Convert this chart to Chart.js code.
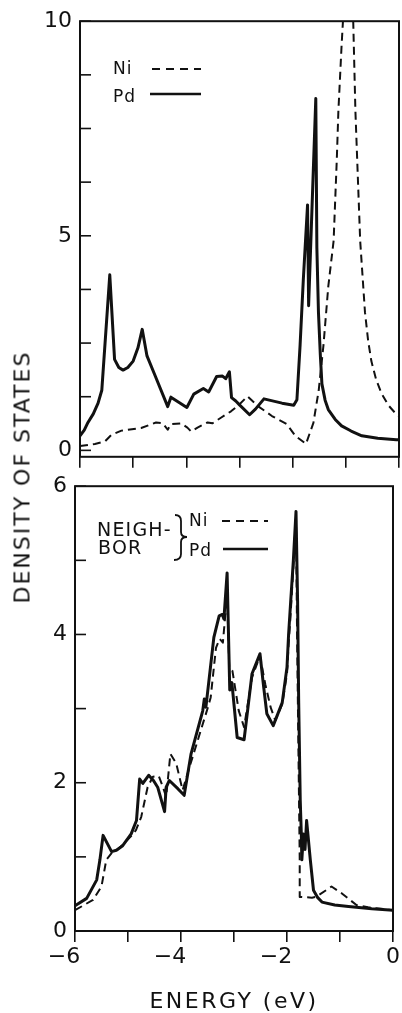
<!DOCTYPE html>
<html><head><meta charset="utf-8">
<script src="https://cdn.jsdelivr.net/npm/chart.js@4"></script>
<style>
html,body{margin:0;padding:0;background:#fff;width:402px;height:1013px;overflow:hidden;}
#topChart{position:absolute;left:0;top:0;}
#botChart{position:absolute;left:0;top:465px;}
#ytitle{position:absolute;left:22px;top:477px;transform:translate(-50%,-50%) rotate(-90deg);font:22px "DejaVu Sans";letter-spacing:2px;white-space:nowrap;color:#111;}
</style></head>
<body>
<canvas id="topChart" width="402" height="478"></canvas>
<canvas id="botChart" width="402" height="548"></canvas>
<div id="ytitle">DENSITY OF STATES</div>
<script>
// ---------- data ----------
const seriesNames = ['Ni', 'Pd'];
const neighborLabel = ['NEIGH-', 'BOR'];
const xTitle = 'ENERGY (eV)';

// top panel (site DOS)
const topNiEnergy = [-6, -5.72, -5.53, -5.41, -5.22, -4.85, -4.57, -4.44, -4.35, -4.29, -4.10, -3.98, -3.91, -3.79, -3.60, -3.51, -3.35, -3.16, -3.01, -2.85, -2.64, -2.39, -2.11, -1.95, -1.75, -1.61, -1.51, -1.42, -1.33, -1.23, -1.17, -1.14, -1.08, -0.94, -0.86, -0.82, -0.73, -0.64, -0.58, -0.52, -0.43, -0.33, -0.20, -0.05, 0];
const topNiDos    = [0.10, 0.15, 0.21, 0.36, 0.46, 0.52, 0.65, 0.63, 0.48, 0.61, 0.63, 0.53, 0.44, 0.53, 0.65, 0.63, 0.76, 0.91, 1.06, 1.26, 1.02, 0.80, 0.61, 0.34, 0.15, 0.64, 1.40, 2.46, 3.82, 4.88, 6.78, 7.91, 9.43, 12.5, 9.95, 7.91, 4.88, 3.22, 2.55, 2.08, 1.65, 1.33, 1.05, 0.84, 0.80];
const topPdEnergy = [-6, -5.92, -5.85, -5.75, -5.66, -5.59, -5.44, -5.35, -5.27, -5.19, -5.10, -5.0, -4.91, -4.83, -4.74, -4.6, -4.35, -4.29, -3.99, -3.86, -3.68, -3.58, -3.43, -3.32, -3.26, -3.19, -3.15, -3.07, -3.0, -2.81, -2.70, -2.54, -2.20, -1.98, -1.92, -1.86, -1.80, -1.72, -1.70, -1.565, -1.545, -1.515, -1.48, -1.45, -1.39, -1.33, -1.20, -1.08, -0.90, -0.70, -0.40, -0.05, 0];
const topPdDos    = [0.34, 0.47, 0.65, 0.85, 1.10, 1.40, 4.09, 2.12, 1.93, 1.87, 1.93, 2.08, 2.39, 2.82, 2.20, 1.78, 1.02, 1.24, 1.00, 1.31, 1.44, 1.36, 1.72, 1.73, 1.67, 1.83, 1.23, 1.15, 1.06, 0.83, 0.96, 1.20, 1.10, 1.05, 1.18, 2.46, 3.97, 5.72, 3.37, 8.20, 4.73, 3.22, 2.23, 1.55, 1.17, 0.95, 0.72, 0.57, 0.45, 0.34, 0.28, 0.25, 0.25];

// bottom panel (neighbor DOS)
const botNiEnergy = [-6, -5.66, -5.50, -5.41, -5.31, -5.22, -4.94, -4.85, -4.75, -4.63, -4.53, -4.42, -4.34, -4.28, -4.20, -4.09, -3.97, -3.81, -3.50, -3.44, -3.34, -3.27, -3.21, -3.13, -3.09, -3.03, -2.91, -2.81, -2.66, -2.51, -2.41, -2.31, -2.22, -2.09, -2.00, -1.97, -1.94, -1.88, -1.83, -1.81, -1.76, -1.76, -1.53, -1.45, -1.16, -0.97, -0.69, -0.47, 0];
const botNiDos    = [0.28, 0.42, 0.60, 0.96, 1.05, 1.08, 1.28, 1.36, 1.54, 1.94, 2.08, 2.09, 1.94, 1.81, 2.39, 2.26, 1.90, 2.28, 3.00, 3.15, 3.82, 3.94, 3.89, 4.54, 3.56, 3.51, 2.97, 2.75, 3.42, 3.71, 3.33, 3.02, 2.84, 3.06, 3.47, 3.87, 4.18, 4.90, 5.60, 4.00, 0.96, 0.46, 0.45, 0.46, 0.60, 0.51, 0.35, 0.32, 0.28];
const botPdEnergy = [-6, -5.78, -5.59, -5.53, -5.47, -5.31, -5.22, -5.10, -4.94, -4.84, -4.78, -4.72, -4.61, -4.52, -4.44, -4.31, -4.28, -4.22, -4.06, -3.94, -3.81, -3.59, -3.56, -3.53, -3.38, -3.28, -3.22, -3.19, -3.13, -3.08, -3.04, -2.94, -2.81, -2.66, -2.51, -2.44, -2.38, -2.26, -2.09, -2.00, -1.97, -1.93, -1.88, -1.83, -1.80, -1.78, -1.75, -1.73, -1.72, -1.69, -1.66, -1.63, -1.56, -1.50, -1.42, -1.34, -1.10, -0.84, -0.40, 0];
const botPdDos    = [0.34, 0.44, 0.69, 0.96, 1.29, 1.07, 1.09, 1.15, 1.31, 1.49, 2.05, 1.99, 2.10, 2.03, 1.94, 1.61, 1.94, 2.03, 1.92, 1.83, 2.39, 2.97, 3.13, 3.02, 3.96, 4.25, 4.27, 4.21, 4.83, 3.25, 3.35, 2.61, 2.58, 3.47, 3.74, 3.29, 2.93, 2.77, 3.08, 3.56, 4.00, 4.45, 5.00, 5.66, 4.45, 3.11, 1.76, 1.31, 0.96, 1.31, 1.10, 1.49, 0.96, 0.55, 0.45, 0.39, 0.35, 0.33, 0.30, 0.28];

// ticks
const xTickValues = [-6, -5, -4, -3, -2, -1, 0];
const xLabelValues = [-6, -4, -2, 0];
const topYTickValues = [0, 1.25, 2.5, 3.75, 5, 6.25, 7.5, 8.75, 10];
const topYLabelValues = [0, 5, 10];
const botYTickValues = [0, 1, 2, 3, 4, 5, 6];
const botYLabelValues = [0, 2, 4, 6];

// ---------- helpers ----------
const INK = '#111';
Chart.defaults.font.family = '"DejaVu Sans", sans-serif';
Chart.defaults.color = INK;
function pts(xs, ys) { return xs.map((x, i) => ({x: x, y: ys[i]})); }
function ds(label, data, dashed) {
  return { label: label, data: data, borderColor: INK, backgroundColor: INK,
    borderWidth: dashed ? 2 : 3, borderDash: dashed ? [8, 5] : [],
    pointRadius: 0, tension: 0, fill: false, borderJoinStyle: 'round', borderCapStyle: 'butt' };
}
function fixTicks(values) { return function (scale) { scale.ticks = values.map(v => ({value: v})); }; }
function xLabel(v) {
  if (!xLabelValues.includes(v)) return '';
  return v < 0 ? '\u2212' + Math.abs(v) + '\u2003' : String(v);
}
const framePlugin = {
  id: 'frame',
  afterDraw(chart) {
    const c = chart.ctx, a = chart.chartArea, ys = chart.scales.y;
    c.save();
    c.strokeStyle = INK; c.lineWidth = 2;
    c.strokeRect(a.left, a.top, a.right - a.left, a.bottom - a.top);
    c.lineWidth = 1.6;
    ys.ticks.forEach(t => {
      const p = ys.getPixelForValue(t.value);
      c.beginPath(); c.moveTo(a.left, p); c.lineTo(a.left + 11, p); c.stroke();
    });
    c.restore();
  }
};
function seg(c, x1, y1, x2, y2) { c.beginPath(); c.moveTo(x1, y1); c.lineTo(x2, y2); c.stroke(); }

const topKey = {
  id: 'topKey',
  afterDraw(chart) {
    const c = chart.ctx;
    c.save();
    c.fillStyle = INK; c.strokeStyle = INK;
    c.font = '17px "DejaVu Sans"'; c.textBaseline = 'alphabetic'; c.textAlign = 'left';
    c.letterSpacing = '1px';
    c.fillText(chart.data.datasets[0].label, 113, 74);
    c.fillText(chart.data.datasets[1].label, 113, 102);
    c.lineWidth = 2; c.setLineDash([8, 6]); seg(c, 152, 69, 201, 69);
    c.setLineDash([]); c.lineWidth = 2.5; seg(c, 150, 94, 201, 94);
    c.restore();
  }
};
const OFF = 465;
const botKey = {
  id: 'botKey',
  afterDraw(chart) {
    const c = chart.ctx;
    c.save();
    c.fillStyle = INK; c.strokeStyle = INK;
    c.font = '19px "DejaVu Sans"'; c.textBaseline = 'alphabetic'; c.textAlign = 'left';
    c.letterSpacing = '1.2px';
    c.fillText(neighborLabel[0], 97, 536 - OFF);
    c.fillText(neighborLabel[1], 98, 554 - OFF);
    c.font = '17px "DejaVu Sans"';
    c.letterSpacing = '1px';
    c.fillText(chart.data.datasets[0].label, 189, 526 - OFF);
    c.fillText(chart.data.datasets[1].label, 189, 556 - OFF);
    c.letterSpacing = '0px';
    // brace
    c.lineWidth = 1.8;
    c.beginPath();
    c.moveTo(175, 515 - OFF);
    c.quadraticCurveTo(181, 515 - OFF, 181, 521 - OFF);
    c.lineTo(181, 532 - OFF);
    c.quadraticCurveTo(181, 537 - OFF, 187, 537 - OFF);
    c.quadraticCurveTo(181, 537 - OFF, 181, 542 - OFF);
    c.lineTo(181, 554 - OFF);
    c.quadraticCurveTo(181, 560 - OFF, 174, 560 - OFF);
    c.stroke();
    c.lineWidth = 2; c.setLineDash([8, 6]); seg(c, 222, 521 - OFF, 268, 521 - OFF);
    c.setLineDash([]); c.lineWidth = 2.5; seg(c, 223, 549 - OFF, 268, 549 - OFF);
    c.restore();
  }
};
const spacing = {
  id: 'spacing',
  beforeDraw(chart) { chart.ctx.letterSpacing = '2.5px'; },
  beforeDatasetsDraw(chart) { chart.ctx.letterSpacing = '0px'; }
};

// ---------- top chart ----------
new Chart(document.getElementById('topChart'), {
  type: 'line',
  data: { datasets: [ ds(seriesNames[0], pts(topNiEnergy, topNiDos), true),
                      ds(seriesNames[1], pts(topPdEnergy, topPdDos), false) ] },
  options: {
    responsive: false, animation: false, events: [],
    layout: { padding: { left: 0, top: 18, right: 2, bottom: 0 } },
    plugins: { legend: { display: false }, tooltip: { enabled: false } },
    scales: {
      x: { type: 'linear', min: -6, max: 0,
        afterBuildTicks: fixTicks(xTickValues),
        afterFit: s => { s.height = 13; },
        ticks: { callback: () => '' },
        grid: { display: true, drawOnChartArea: false, drawTicks: true, tickLength: 11, color: INK, lineWidth: 1.6 },
        border: { display: false } },
      y: { type: 'linear', min: -0.15, max: 10,
        afterBuildTicks: fixTicks(topYTickValues),
        afterFit: s => { s.width = 80; },
        ticks: { padding: 8, font: { size: 22 }, color: INK,
          callback: v => topYLabelValues.includes(v) ? String(v) : '' },
        grid: { display: false, drawTicks: false },
        border: { display: false } }
    }
  },
  plugins: [framePlugin, topKey]
});

// ---------- bottom chart ----------
new Chart(document.getElementById('botChart'), {
  type: 'line',
  data: { datasets: [ ds(seriesNames[0], pts(botNiEnergy, botNiDos), true),
                      ds(seriesNames[1], pts(botPdEnergy, botPdDos), false) ] },
  options: {
    responsive: false, animation: false, events: [],
    layout: { padding: { left: 0, top: 20, right: 7, bottom: 0 } },
    plugins: { legend: { display: false }, tooltip: { enabled: false } },
    scales: {
      x: { type: 'linear', min: -6, max: 0,
        afterBuildTicks: fixTicks(xTickValues),
        afterFit: s => { s.height = 82; },
        ticks: { z: 1, padding: 2, font: { size: 22 }, color: INK, maxRotation: 0, autoSkip: false, callback: xLabel },
        grid: { display: true, drawOnChartArea: false, drawTicks: true, tickLength: 11, color: INK, lineWidth: 1.6, z: -1 },
        border: { display: false },
        title: { display: true, text: xTitle, color: INK, font: { size: 22, lineHeight: 1 }, padding: { top: 0, bottom: 0 } } },
      y: { type: 'linear', min: 0, max: 6,
        afterBuildTicks: fixTicks(botYTickValues),
        afterFit: s => { s.width = 75; },
        ticks: { z: 1, padding: 8, font: { size: 22 }, color: INK,
          callback: v => botYLabelValues.includes(v) ? String(v) : '' },
        grid: { display: false, drawTicks: false },
        border: { display: false } }
    }
  },
  plugins: [spacing, framePlugin, botKey]
});
</script>
</body></html>
